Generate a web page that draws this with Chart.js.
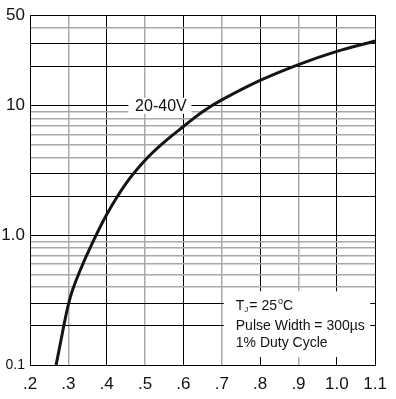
<!DOCTYPE html>
<html>
<head>
<meta charset="utf-8">
<script src="https://cdn.jsdelivr.net/npm/chart.js@4.4.0/dist/chart.umd.min.js"></script>
<style>
  body { margin: 0; background: #fff; }
</style>
</head>
<body>
<canvas id="chart" width="396" height="399"></canvas>
<script>
// forward voltage (V) vs instantaneous forward current (A)
const voltage = [0.268, 0.28, 0.29, 0.30, 0.31, 0.33, 0.36, 0.40, 0.45, 0.50, 0.55, 0.60, 0.65, 0.70, 0.80, 0.90, 1.00, 1.10];
const current = [0.10, 0.151, 0.214, 0.292, 0.372, 0.531, 0.84, 1.45, 2.51, 3.80, 5.25, 6.92, 9.0, 11.1, 15.7, 20.8, 26.3, 31.6];

const xTicks = [0.2, 0.3, 0.4, 0.5, 0.6, 0.7, 0.8, 0.9, 1.0, 1.1];
const xLabels = ['.2', '.3', '.4', '.5', '.6', '.7', '.8', '.9', '1.0', '1.1'];
const yTicks = [0.1, 0.2, 0.3, 0.4, 0.5, 0.6, 0.7, 0.8, 0.9,
                1, 2, 3, 4, 5, 6, 7, 8, 9,
                10, 20, 30, 40, 50];
const yLabels = { 0.1: '0.1', 1: '1.0', 10: '10', 50: '50' };

const seriesName = '20-40V';
const noteTemp = '25';
const notePulse = 'Pulse Width = 300µs';
const noteDuty = '1% Duty Cycle';

const GRAY = '#a9a9a9';
const FONT = 'Liberation Sans, Arial, sans-serif';

const points = voltage.map((v, i) => ({ x: v, y: current[i] }));

const notes = {
  id: 'notes',
  beforeDatasetsDraw(chart) {
    const c = chart.ctx;
    const xs = chart.scales.x, ys = chart.scales.y;
    c.save();
    // series label sitting on the 10 A line
    const lx = xs.getPixelForValue(0.54), ly = ys.getPixelForValue(10);
    c.font = '16px ' + FONT;
    c.fillStyle = '#fff';
    c.fillRect(lx - 32, ly - 8, 63, 16);
    c.fillStyle = '#111';
    c.textAlign = 'center';
    c.textBaseline = 'middle';
    c.fillText(seriesName, lx + 0.5, ly + 1);

    // condition box
    const bx = xs.getPixelForValue(0.7) + 2;
    const bTop = ys.getPixelForValue(0.37);
    const bBot = ys.getPixelForValue(0.115);
    c.fillStyle = '#fff';
    c.fillRect(bx, bTop, chart.chartArea.right - 5 - bx, bBot - bTop);
    c.fillStyle = '#111';
    c.textAlign = 'left';
    c.textBaseline = 'alphabetic';
    let tx = bx + 12;
    const y1 = bTop + 19;
    c.font = '14px ' + FONT;
    c.fillText('T', tx, y1); tx += c.measureText('T').width;
    c.font = '8px ' + FONT;
    c.fillText('J', tx, y1 + 2); tx += c.measureText('J').width + 1;
    c.font = '14px ' + FONT;
    const mid = '= ' + noteTemp;
    c.fillText(mid, tx, y1); tx += c.measureText(mid).width + 1;
    c.font = '9px ' + FONT;
    c.fillText('o', tx, y1 - 6); tx += c.measureText('o').width;
    c.font = '14px ' + FONT;
    c.fillText('C', tx, y1);
    c.fillText(notePulse, bx + 12, y1 + 20);
    c.fillText(noteDuty, bx + 12, y1 + 37);
    c.restore();
  }
};

new Chart(document.getElementById('chart'), {
  type: 'line',
  data: {
    datasets: [{
      label: seriesName,
      data: points,
      borderColor: '#151515',
      borderWidth: 3,
      pointRadius: 0,
      tension: 0.4,
      fill: false,
    }],
  },
  options: {
    responsive: false,
    animation: false,
    layout: { padding: { top: 10, right: 19, left: 0, bottom: 0 } },
    plugins: { legend: { display: false }, tooltip: { enabled: false } },
    scales: {
      x: {
        type: 'linear',
        min: 0.2,
        max: 1.1,
        afterBuildTicks: (s) => { s.ticks = xTicks.map((v) => ({ value: v })); },
        afterFit: (s) => { s.height = 34; },
        border: { display: true, color: '#000', width: 1 },
        grid: {
          drawTicks: false,
          color: (ctx) => {
            const n = Math.round(ctx.tick.value * 10);
            return (n % 2 === 0 || n === 11) ? '#000' : GRAY;
          },
          lineWidth: (ctx) => {
            const n = Math.round(ctx.tick.value * 10);
            return (n % 2 === 0 || n === 11) ? 1 : 1.5;
          },
        },
        ticks: {
          autoSkip: false,
          maxRotation: 0,
          padding: 9,
          color: '#111',
          font: { family: FONT, size: 17 },
          callback: (v, i) => xLabels[i],
        },
      },
      y: {
        type: 'logarithmic',
        min: 0.1,
        max: 50,
        afterBuildTicks: (s) => { s.ticks = yTicks.map((v) => ({ value: v })); },
        afterFit: (s) => { s.width = 30; },
        border: { display: true, color: '#000', width: 1 },
        grid: {
          drawTicks: false,
          color: (ctx) => {
            const v = ctx.tick.value;
            const sig = Math.round(v / Math.pow(10, Math.floor(Math.log10(v) + 1e-9)));
            return (sig <= 3 || v === 50) ? '#000' : GRAY;
          },
          lineWidth: (ctx) => {
            const v = ctx.tick.value;
            const sig = Math.round(v / Math.pow(10, Math.floor(Math.log10(v) + 1e-9)));
            return (sig <= 3 || v === 50) ? 1 : 1.5;
          },
        },
        ticks: {
          autoSkip: false,
          padding: 5,
          color: '#111',
          font: (ctx) => ({ family: FONT, size: ctx.tick && ctx.tick.value === 0.1 ? 14 : 17 }),
          callback: (v) => yLabels[v] ?? '',
        },
      },
    },
  },
  plugins: [notes],
});
</script>
</body>
</html>
